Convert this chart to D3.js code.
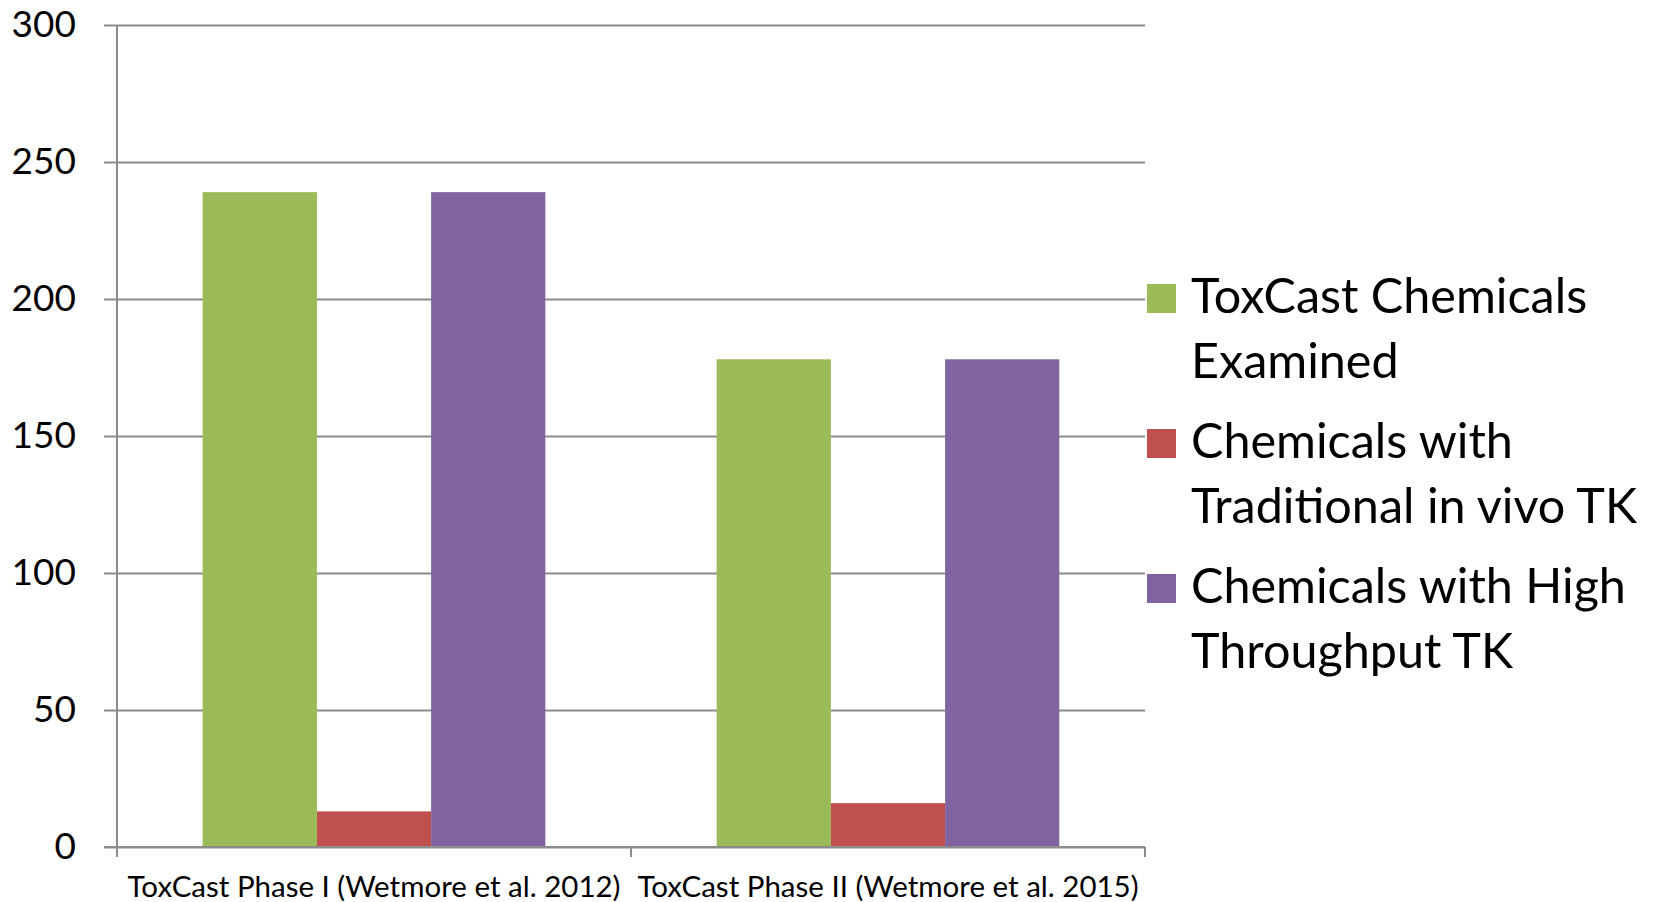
<!DOCTYPE html>
<html>
<head>
<meta charset="utf-8">
<script src="https://cdn.jsdelivr.net/npm/d3@7"></script>
<style>
  body { margin: 0; background: #fff; }
  svg { display: block; }
  text { font-family: Lato, "Open Sans", sans-serif; fill: #000; }
</style>
</head>
<body>
<svg width="1661" height="902"></svg>
<script>

// chart data
var categories = ["ToxCast Phase I (Wetmore et al. 2012)", "ToxCast Phase II (Wetmore et al. 2015)"];
var seriesNames = ["ToxCast Chemicals Examined", "Chemicals with Traditional in vivo TK", "Chemicals with High Throughput TK"];
var examined = [239, 178];
var traditionalTK = [13, 16];
var highThroughputTK = [239, 178];
var yTicks = [0, 50, 100, 150, 200, 250, 300];
var legendLines = [["ToxCast Chemicals", "Examined"], ["Chemicals with", "Traditional in vivo TK"], ["Chemicals with High", "Throughput TK"]];

var colors = ["#9bbb59", "#c0504d", "#8064a2"];
var seriesValues = [examined, traditionalTK, highThroughputTK];

var svg = d3.select("svg");

var plotLeft = 117, plotRight = 1145, plotTop = 25, plotBottom = 847;

var scaleY = d3.scaleLinear().domain([0, 300]).range([plotBottom, plotTop]);
var scaleX = d3.scaleBand().domain(categories).range([plotLeft, plotRight]);

var bw = scaleX.bandwidth();
var gap = bw * 0.75 / 4.5;
var scaleX1 = d3.scaleBand().domain(d3.range(seriesNames.length)).range([gap, bw - gap]);

// gridlines + y labels
svg.append("g")
    .attr("transform", "translate(" + plotLeft + ",0)")
    .call(d3.axisLeft(scaleY).tickValues(yTicks).tickSize(13).tickPadding(28).tickFormat(d3.format("d")))
    .call(function(g){
        g.select(".domain").remove();
        g.selectAll(".tick line").attr("x2", plotRight - plotLeft).attr("x1", -13)
            .attr("stroke", "#8c8c8c").attr("stroke-width", 2);
        g.selectAll(".tick text").attr("font-size", 37).attr("font-family", "Lato, sans-serif").attr("fill", "#000");
    });

// bars
var table = [];
categories.forEach(function(c, i){
    seriesValues.forEach(function(vals, s){
        table.push({cat: c, s: s, v: vals[i]});
    });
});

svg.append("g").selectAll("rect")
    .data(table)
    .enter()
    .append("rect")
    .attr("x", function(d){ return scaleX(d.cat) + scaleX1(d.s); })
    .attr("width", scaleX1.bandwidth())
    .attr("y", function(d){ return scaleY(d.v); })
    .attr("height", function(d){ return scaleY(0) - scaleY(d.v); })
    .attr("fill", function(d){ return colors[d.s]; });

// y axis line
svg.append("line")
    .attr("x1", plotLeft).attr("x2", plotLeft)
    .attr("y1", plotTop).attr("y2", plotBottom)
    .attr("stroke", "#8c8c8c").attr("stroke-width", 2);

// x axis
svg.append("line")
    .attr("x1", plotLeft - 13).attr("x2", plotRight)
    .attr("y1", plotBottom).attr("y2", plotBottom)
    .attr("stroke", "#8c8c8c").attr("stroke-width", 2);

var edges = [plotLeft, plotLeft + bw, plotRight];
svg.append("g").selectAll("line")
    .data(edges)
    .enter()
    .append("line")
    .attr("x1", function(d){ return d; }).attr("x2", function(d){ return d; })
    .attr("y1", plotBottom).attr("y2", plotBottom + 10)
    .attr("stroke", "#8c8c8c").attr("stroke-width", 2);

svg.append("g").selectAll("text")
    .data(categories)
    .enter()
    .append("text")
    .attr("x", function(d){ return scaleX(d) + bw / 2; })
    .attr("y", 897)
    .attr("text-anchor", "middle")
    .attr("font-size", 29.5)
    .text(function(d){ return d; });

// legend
var legend = svg.append("g").attr("transform", "translate(1147,284)");
var entry = legend.selectAll("g")
    .data(seriesNames)
    .enter()
    .append("g")
    .attr("transform", function(d, i){ return "translate(0," + (i * 145) + ")"; });

entry.append("rect")
    .attr("width", 29).attr("height", 29)
    .attr("fill", function(d, i){ return colors[i]; });

entry.each(function(d, i){
    var g = d3.select(this);
    legendLines[i].forEach(function(line, j){
        g.append("text")
            .attr("x", 44)
            .attr("y", 29 + j * 65)
            .attr("font-size", 48.5)
            .text(line);
    });
});

</script>
</body>
</html>
